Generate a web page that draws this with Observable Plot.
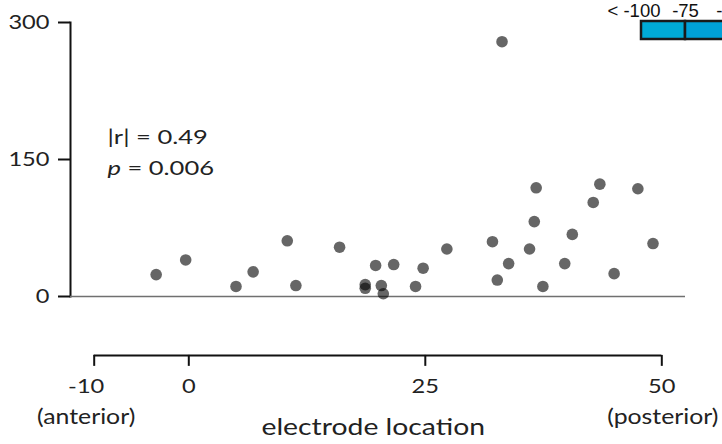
<!DOCTYPE html>
<html>
<head>
<meta charset="utf-8">
<script src="https://cdn.jsdelivr.net/npm/d3@7"></script>
<script src="https://cdn.jsdelivr.net/npm/@observablehq/plot@0.6"></script>
<style>
html, body { margin: 0; padding: 0; background: #fff; overflow: hidden; width: 722px; height: 444px; }
#wrap { position: relative; width: 722px; height: 444px; overflow: hidden; }
#legend { position: absolute; left: 601px; top: 0px; width: 170px; }
#legend svg { max-width: none !important; }
</style>
</head>
<body>
<div id="wrap"><div id="chart"></div><div id="stats"></div><div id="legend"></div></div>
<script>
// electrode location (x) and value (y)
const locations = [-3.45, -0.33, 4.99, 6.80, 10.41, 11.32, 15.94, 18.65, 18.65, 19.75, 20.35, 20.56, 21.66, 23.97, 24.77, 27.28,
  32.10, 32.61, 33.11, 33.81, 36.02, 36.52, 36.72, 37.43, 39.74, 40.54, 42.75, 43.45, 44.96, 47.47, 49.07];
const values = [24, 40, 11, 27, 61, 12, 54, 13, 9, 34, 12, 3, 35, 11, 31, 52,
  60, 18, 279, 36, 52, 82, 119, 11, 36, 68, 103, 123, 25, 118, 58];
const yTicks = [0, 150, 300];
const xTicks = [0, 25, 50];
const xTickLabels = ["0", "25", "50"];
const xFirstTick = [-10];
const xFirstTickLabel = ["-10"];
const statLines = ["|r| = 0.49", "p = 0.006"];
const statLevels = [174, 139];
const legendStops = [-100, -75, -50];
const legendLabels = ["< -100", "-75", "-50"];
const legendColors = ["#00abd6", "#00a1d8"];

const data = locations.map((x, i) => ({x, y: values[i]}));
const xAxisLevel = -64.5;   // y-value where the detached x axis sits
const font = "Lato, 'Open Sans', sans-serif";
const xDomain = [-12.505, 52.505];

const chart = Plot.plot({
  width: 722,
  height: 444,
  marginLeft: 70,
  marginRight: 37,
  marginTop: 22,
  marginBottom: 148,
  style: {fontFamily: font, color: "#222", background: "white"},
  x: {domain: xDomain, axis: null},
  y: {domain: [0, 300], axis: null},
  marks: [
    Plot.axisY(yTicks, {label: null, tickSize: 12, tickPadding: 9, fontSize: 20, strokeWidth: 2, stroke: "#111", fill: "#222", tickFormat: d => String(d)}),
    Plot.frame({anchor: "left", stroke: "#111", strokeWidth: 2}),
    Plot.ruleY([0], {stroke: "#707070", strokeWidth: 1.6}),
    Plot.ruleY([xAxisLevel], {x1: -10, x2: 50, stroke: "#111", strokeWidth: 2}),
    Plot.ruleX(xFirstTick.concat(xTicks), {y1: xAxisLevel, y2: xAxisLevel - 12, stroke: "#111", strokeWidth: 2}),
    Plot.text(xTicks, {x: d => d, y: xAxisLevel, dy: 31, text: (d, i) => xTickLabels[i], fontSize: 20, fill: "#222"}),
    Plot.text(xFirstTick, {x: d => d, y: xAxisLevel, dy: 31, dx: -8, text: (d, i) => xFirstTickLabel[i], fontSize: 20, fill: "#222"}),
    Plot.text(["(anterior)"], {x: -10, y: xAxisLevel, dx: -8, dy: 62, fontSize: 21, fill: "#222"}),
    Plot.text(["(posterior)"], {x: 50, y: xAxisLevel, dx: 1, dy: 62, fontSize: 21, fill: "#222"}),
    Plot.text(["electrode location"], {x: 19.5, y: xAxisLevel, dy: 72, fontSize: 24, fill: "#222"}),
    Plot.dot(data, {x: "x", y: "y", r: 5.8, fill: "black", fillOpacity: 0.6})
  ]
});
document.getElementById("chart").appendChild(chart);

const statPlot = Plot.plot({
  width: 722, height: 444, marginLeft: 70, marginRight: 37, marginTop: 22, marginBottom: 148,
  x: {domain: xDomain, axis: null}, y: {domain: [0, 300], axis: null},
  style: {fontFamily: font, background: "transparent"},
  marks: [
    Plot.text(statLines, {x: -8.6, y: (d, i) => statLevels[i], text: d => d, textAnchor: "start", fontSize: 18.5, fill: "#222"})
  ]
});
statPlot.style.position = "absolute";
statPlot.style.left = "0px";
statPlot.style.top = "0px";
document.getElementById("stats").appendChild(statPlot);
d3.select(statPlot).selectAll("text").each(function() {
  const t = d3.select(this);
  if (t.text().startsWith("p")) {
    const rest = t.text().slice(1);
    t.text(null);
    t.append("tspan").attr("font-style", "italic").text("p");
    t.append("tspan").text(rest);
  }
});

// colour bar legend (cut off at the right edge)
const legendCells = legendColors.map((c, i) => ({x1: legendStops[i], x2: legendStops[i + 1], c}));
const legendText = {frameAnchor: "top", lineAnchor: "middle", dy: -10, fontSize: 18.5, fill: "#111"};
const legend = Plot.plot({
  width: 170, height: 42, marginLeft: 40, marginRight: 42, marginTop: 21, marginBottom: 3,
  x: {domain: [-100, -75], range: [40, 84], axis: null},
  style: {fontFamily: "'Liberation Sans', Arial, sans-serif", background: "transparent", overflow: "visible"},
  marks: [
    Plot.rect(legendCells, {x1: "x1", x2: "x2", fill: "c", stroke: "#1a1a1a", strokeWidth: 2.5}),
    Plot.text(legendStops.slice(0, 1), {x: d => d, text: (d, i) => legendLabels[i], textAnchor: "end", dx: 19, ...legendText}),
    Plot.text(legendStops.slice(1), {x: d => d, text: (d, i) => legendLabels[i + 1], ...legendText})
  ]
});
legend.style.maxWidth = "none";
document.getElementById("legend").appendChild(legend);

// the reference typeface is wide; stretch the glyphs horizontally
function stretch(root, factor) {
  d3.select(root).selectAll("text").each(function() {
    const w = this.getComputedTextLength();
    if (w > 0) {
      this.setAttribute("textLength", (w * factor).toFixed(1));
      this.setAttribute("lengthAdjust", "spacingAndGlyphs");
    }
  });
}
stretch(chart, 1.18);
stretch(statPlot, 1.38);
</script>
</body>
</html>
